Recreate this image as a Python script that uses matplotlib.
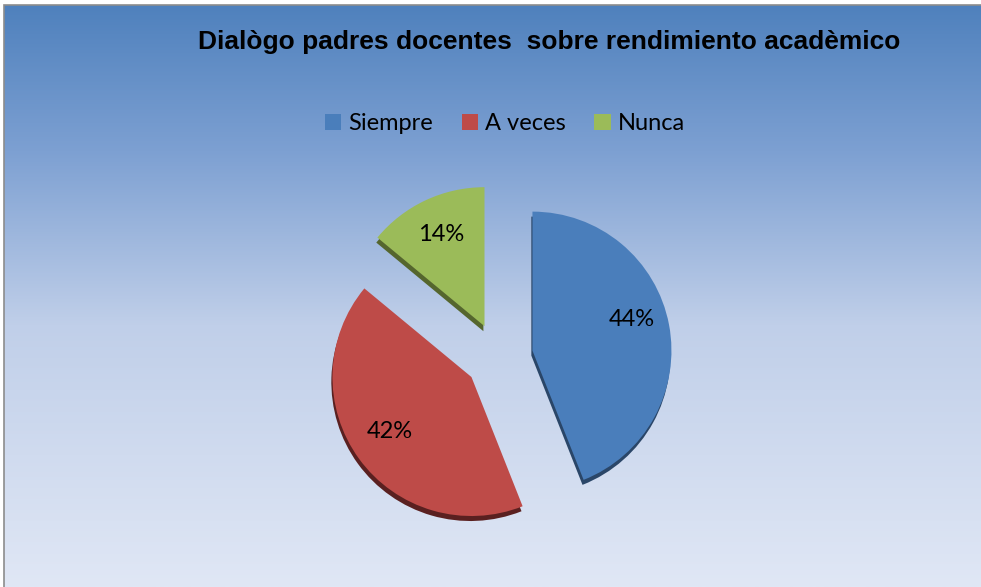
import numpy as np
import matplotlib
matplotlib.use("Agg")
import matplotlib.pyplot as plt
from matplotlib.patches import Rectangle, Patch

# Datos del gráfico
categorias = ["Siempre", "A veces", "Nunca"]
porcentajes = [44, 42, 14]
colores = ["#4A7EBB", "#BE4B48", "#9BBB59"]
sombras = ["#2A4668", "#5A2020", "#55662E"]
titulo = "Dialògo padres docentes  sobre rendimiento acadèmico"

W, H = 981, 587
fig = plt.figure(figsize=(W / 100, H / 100), dpi=100)
fig.patch.set_facecolor("white")

# Fondo con degradado azul
bg = fig.add_axes([4 / W, 0, 1 - 4 / W, 1 - 5 / H], zorder=0)
stops_y = [0.0, 0.25, 0.55, 1.0]
stops_c = np.array([[79, 129, 189], [125, 160, 210], [192, 207, 233], [224, 231, 245]]) / 255
yy = np.linspace(0, 1, 300)
grad = np.stack([np.interp(yy, stops_y, stops_c[:, k]) for k in range(3)], axis=1)
bg.imshow(grad[:, None, :], aspect="auto", extent=[0, 1, 1, 0])
bg.set_xlim(0, 1)
bg.set_ylim(1, 0)
bg.axis("off")
fig.add_artist(Rectangle((4 / W, -0.01), 1.0, 1 - 5 / H + 0.01, transform=fig.transFigure,
                         fill=False, edgecolor="#8C8C8C", linewidth=1.2, zorder=1))

# Pastel con sombra
cx, cy, r_px = 499, 357, 139
lim = 1.5
size = 2 * lim * r_px
ax = fig.add_axes([(cx - size / 2) / W, (H - cy - size / 2) / H, size / W, size / H], zorder=2)
ax.set_xlim(-lim, lim)
ax.set_ylim(-lim, lim)
ax.axis("off")

explode = [0.245] * len(porcentajes)
ax.pie(porcentajes, colors=sombras, startangle=90, counterclock=False,
       explode=explode, radius=1.0, center=(-0.008, -0.036))
wedges, textos, autotextos = ax.pie(
    porcentajes, colors=colores, startangle=90, counterclock=False,
    explode=explode, radius=1.0, autopct="%1.0f%%", pctdistance=0.73,
    textprops=dict(fontsize=17, family="Lato", color="black"))
# pequeños ajustes de las etiquetas
for t, dy in zip(autotextos, [0.09, 0.04, 0.0]):
    x, y = t.get_position()
    t.set_position((x, y + dy))
ax.set_xlim(-lim, lim)
ax.set_ylim(-lim, lim)

# Título y leyenda
fig.text(549 / W, 1 - 42 / H, titulo, ha="center", va="center",
         fontsize=19, fontweight="bold", family="Liberation Sans", zorder=3)
handles = [Patch(facecolor=c, edgecolor="none") for c in colores]
fig.legend(handles, categorias, loc="center", bbox_to_anchor=(505 / W, 1 - 124 / H),
           ncol=3, frameon=False, prop=dict(family="Lato", size=17),
           handlelength=0.7, handleheight=0.7, handletextpad=0.3, columnspacing=1.2)

fig.savefig("out.png", dpi=100)
